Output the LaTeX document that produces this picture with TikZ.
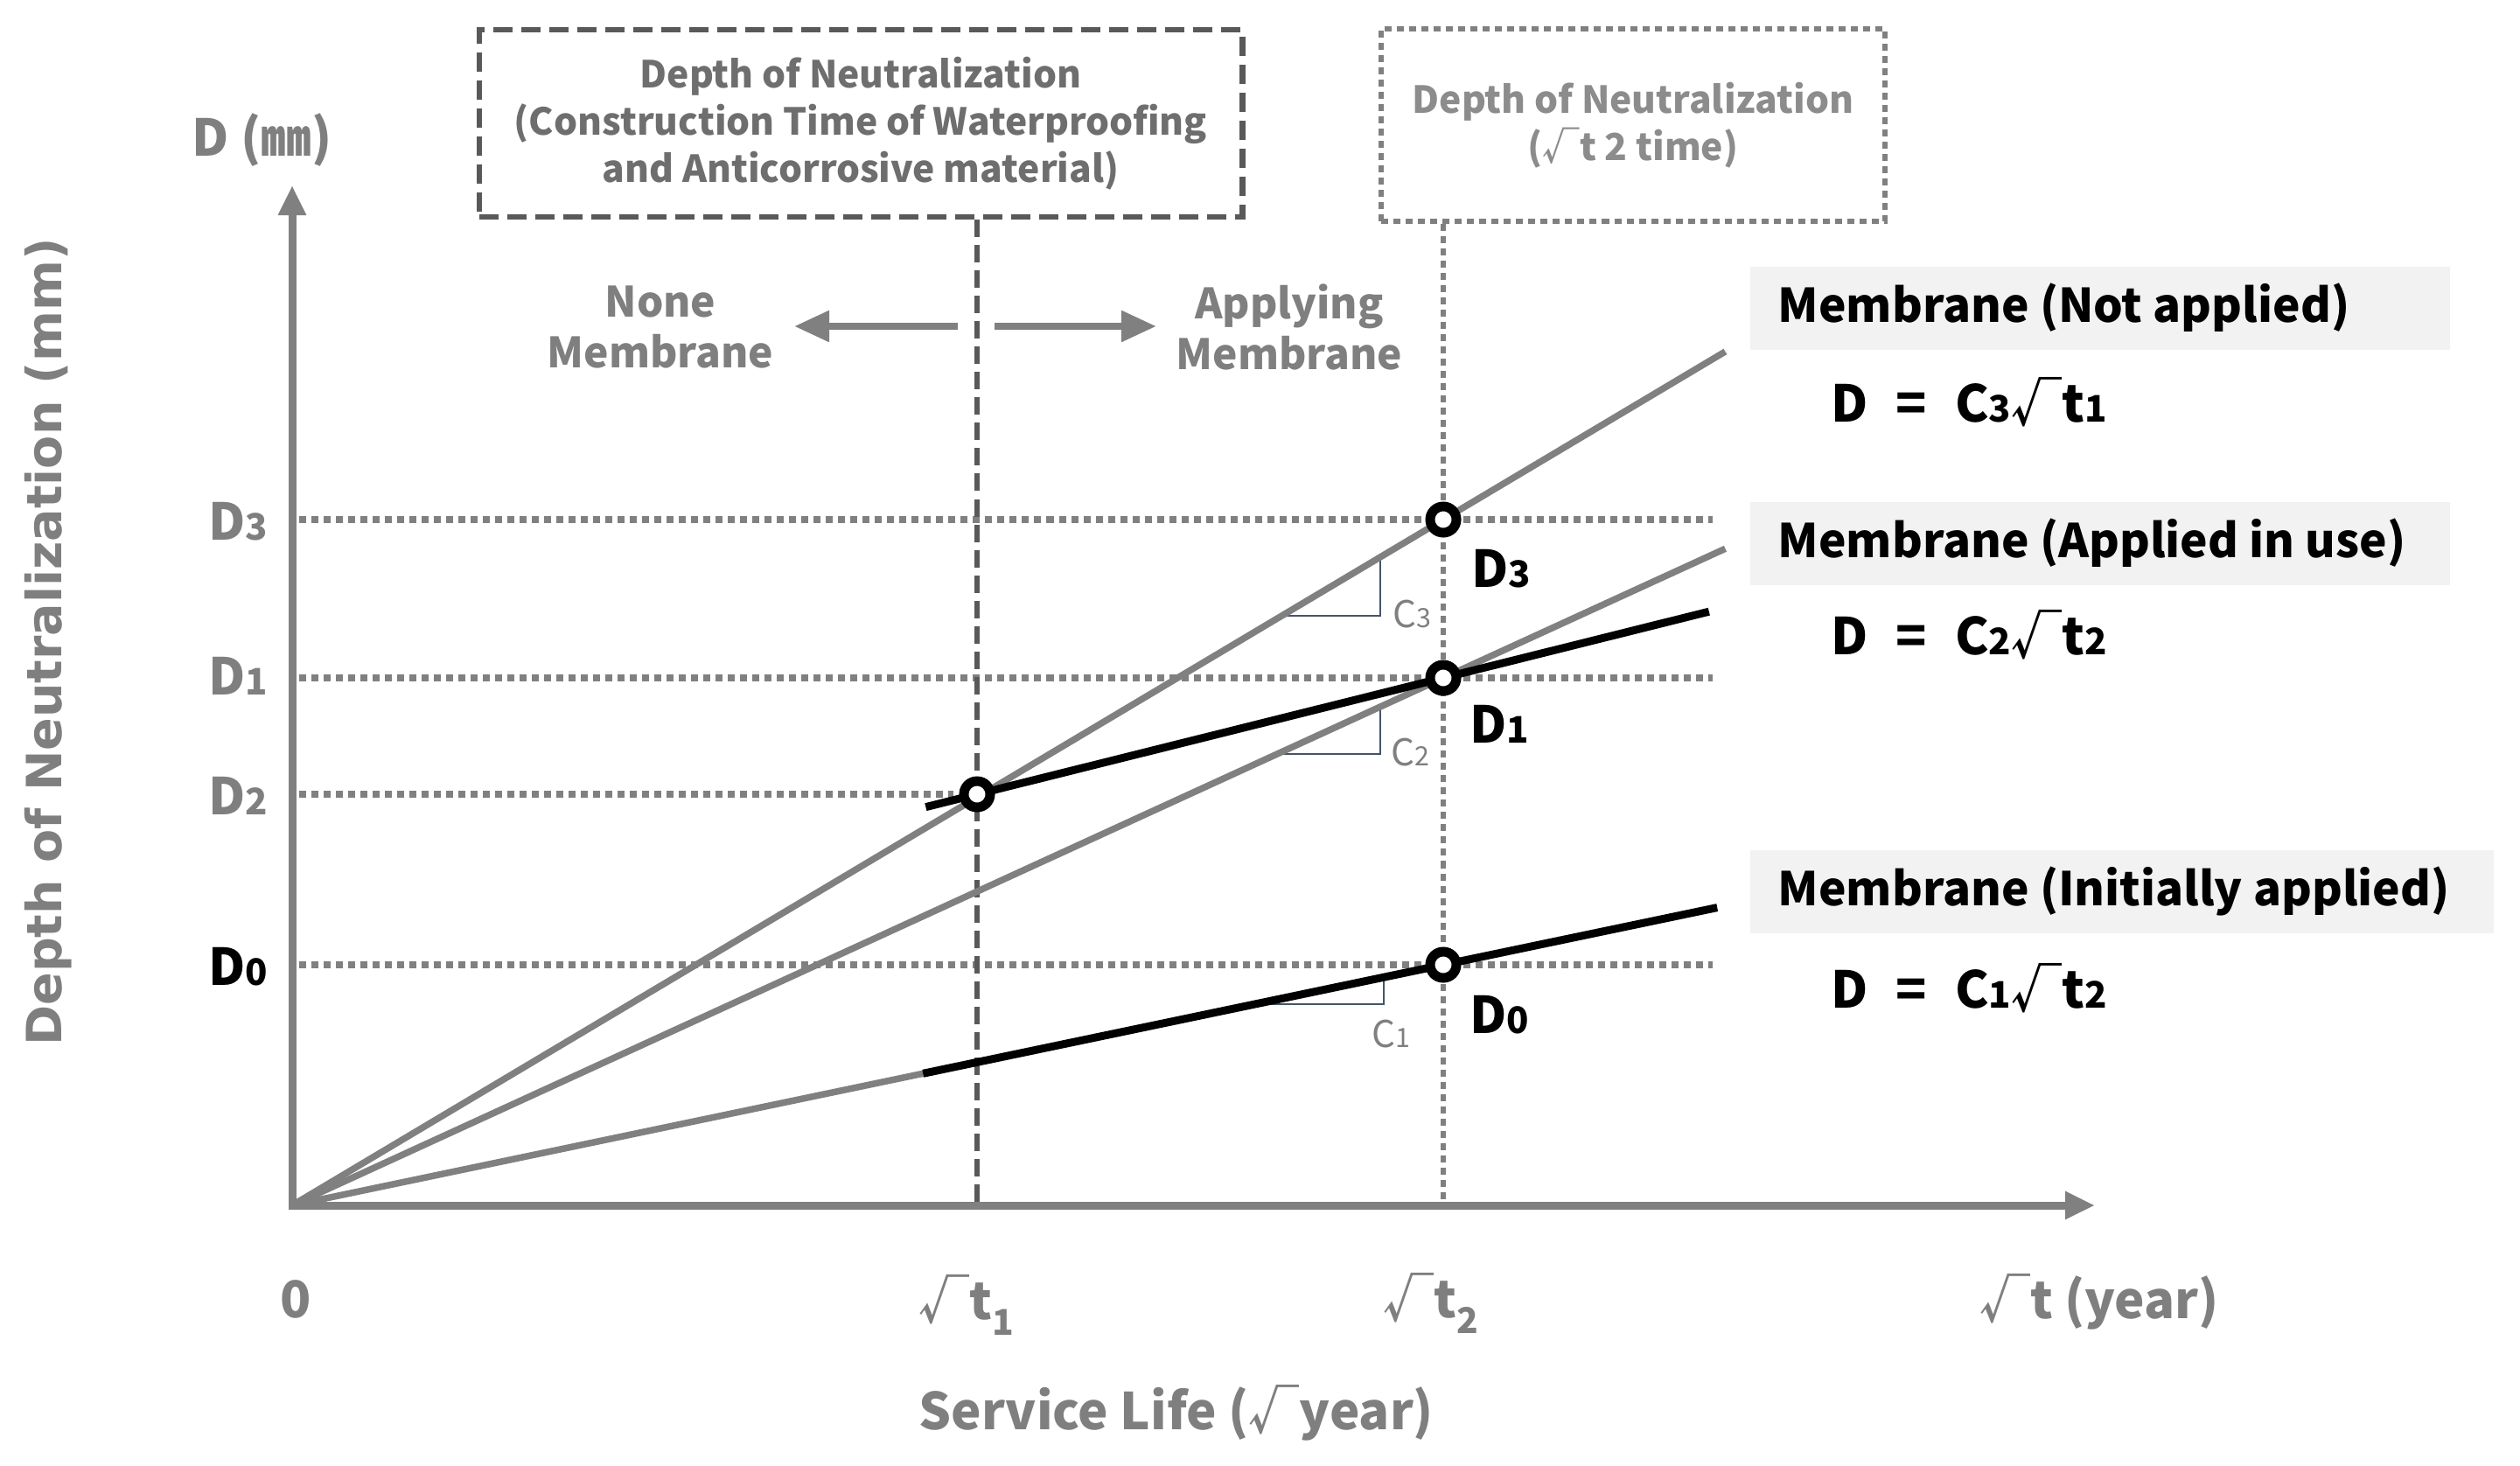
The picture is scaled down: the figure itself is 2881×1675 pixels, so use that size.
\documentclass[tikz,border=0pt]{standalone}
\usepackage{fontspec}
\usepackage{graphicx}
\setmainfont{Noto Sans CJK KR}
\newfontfamily\ylabfont{DejaVu Sans}
\usetikzlibrary{arrows.meta,calc}
\definecolor{agray}{HTML}{808080}
\definecolor{tgray}{HTML}{7F7F7F}
\definecolor{boxdark}{HTML}{595959}
\definecolor{boxtext}{HTML}{6E6E6E}
\definecolor{rboxtext}{HTML}{8C8C8C}
\definecolor{legfill}{HTML}{F2F2F2}
\definecolor{slopec}{HTML}{44546A}
\newcommand\dg[1]{\scalebox{0.72}{#1}}
\newcommand\sbs[1]{\raisebox{-0.3em}{\scalebox{0.7}{#1}}}
\newcommand\fBig{\fontsize{16.5}{20}\selectfont\bfseries}
\newcommand\fLeg{\fontsize{15.1}{18}\selectfont\bfseries}
\newcommand\fBox{\fontsize{12.1}{15.4}\selectfont\bfseries}
\newcommand\fMid{\fontsize{13.6}{16.3}\selectfont\bfseries}
\newcommand\fSmall{\fontsize{12}{14}\selectfont}
\tikzset{
  grayline/.style={draw=agray, line width=0.075cm},
  blackline/.style={draw=black, line width=0.09cm},
  axisline/.style={draw=agray, line width=0.09cm, -{Triangle[length=0.34cm,width=0.3cm]}},
  dotline/.style={draw=agray, line width=0.075cm, dash pattern=on 0.08cm off 0.06cm},
  dashline/.style={draw=boxdark, line width=0.06cm, dash pattern=on 0.2cm off 0.09cm},
  vdotline/.style={draw=agray, line width=0.06cm, dash pattern=on 0.08cm off 0.06cm},
  slopeline/.style={draw=slopec, line width=0.025cm},
  ringpt/.style={circle, draw=black, line width=0.11cm, fill=white, minimum size=0.30cm, inner sep=0pt},
  lbox/.style={draw=boxdark, line width=0.065cm, dash pattern=on 0.22cm off 0.1cm, minimum width=8.72cm, minimum height=2.14cm, align=center, text=boxtext, font=\fBox},
  rbox/.style={draw=agray, line width=0.06cm, dash pattern=on 0.08cm off 0.06cm, minimum width=5.75cm, minimum height=2.2cm, align=center, text=rboxtext, font=\fBox},
  legbox/.style={fill=legfill, anchor=north west, minimum height=0.95cm, inner sep=0pt},
  legtxt/.style={anchor=west, font=\fLeg, text=black, inner sep=0pt},
  graytxt/.style={text=tgray, font=\fBig},
  blacktxt/.style={text=black, font=\fBig},
  midtxt/.style={text=tgray, font=\fMid, align=center},
  memarrow/.style={draw=agray, line width=0.085cm, -{Triangle[length=0.4cm,width=0.34cm]}},
}
\begin{document}
\begin{tikzpicture}[x=0.01cm,y=-0.01cm]
\useasboundingbox (0,0) rectangle (2881,1675);
% key coordinates
\coordinate (O) at (334,1378);
\coordinate (Ytop) at (334,212);
\coordinate (Xend) at (2395,1378);
\coordinate (T1) at (1117,1378);
\coordinate (T2) at (1650,1378);
\coordinate (c2) at (1117,908);
\coordinate (c3) at (1650,594);
\coordinate (c1) at (1650,775);
\coordinate (c0) at (1650,1103);

% top boxes
\node[lbox] (boxL) at (984,141) {Depth of Neutralization\\(Construction Time of Waterproofing\\and Anticorrosive material)};
\node[rbox] (boxR) at (1867,143) {Depth of Neutralization\\(√t 2 time)};

% horizontal dotted guides
\coordinate (h3a) at (342,594);  \coordinate (h3b) at (1958,594);
\coordinate (h1a) at (342,775);  \coordinate (h1b) at (1958,775);
\coordinate (h2a) at (342,908);  \coordinate (h2b) at (1090,908);
\coordinate (h0a) at (342,1103); \coordinate (h0b) at (1958,1103);
\draw[dotline] (h3a) -- (h3b);
\draw[dotline] (h1a) -- (h1b);
\draw[dotline] (h2a) -- (h2b);
\draw[dotline] (h0a) -- (h0b);

% vertical guides
\draw[dashline] (boxL.south -| T1) -- (T1);
\draw[vdotline] (boxR.south -| T2) -- (T2);

% slope triangles
\draw[slopeline] (1465,704) -- (1578,704) -- (1578,637);
\draw[slopeline] (1460,862) -- (1578,862) -- (1578,808);
\draw[slopeline] (1434,1148) -- (1582,1148) -- (1582,1117);
\node[text=tgray, font=\fSmall] (sC3) at (1614,702) {C\dg{3}};
\node[text=tgray, font=\fSmall] (sC2) at (1612,860) {C\dg{2}};
\node[text=tgray, font=\fSmall] (sC1) at (1590,1182) {C\dg{1}};

% curves
\coordinate (E1) at ($(O)!1.245!(c3)$);
\coordinate (E2) at ($(O)!1.245!(c1)$);
\coordinate (B1) at ($(c2)!-0.11!(c1)$);
\coordinate (B2) at ($(c2)!1.57!(c1)$);
\coordinate (K) at ($(O)!0.548!(c0)$);
\coordinate (E3) at ($(O)!1.238!(c0)$);
\draw[grayline] (O) -- (E1);
\draw[grayline] (O) -- (E2);
\draw[grayline] (O) -- (K);
\draw[blackline] (K) -- (E3);
\draw[blackline] (B1) -- (B2);

% axes
\draw[axisline] (O) -- (Ytop);
\draw[axisline] ($(O)+(-4,0)$) -- (Xend);

% points
\node[ringpt] (p2) at (c2) {};
\node[ringpt] (p3) at (c3) {};
\node[ringpt] (p1) at (c1) {};
\node[ringpt] (p0) at (c0) {};

% point labels
\node[blacktxt] (lp3) at (1716,650) {D\dg{3}};
\node[blacktxt] (lp1) at (1714,828) {D\dg{1}};
\node[blacktxt] (lp0) at (1714,1160) {D\dg{0}};

% axis labels
\node[graytxt] (ly3) at (272,596) {D\dg{3}};
\node[graytxt] (ly1) at (272,773) {D\dg{1}};
\node[graytxt] (ly2) at (272,910) {D\dg{2}};
\node[blacktxt] (ly0) at (272,1105) {D\dg{0}};
\node[graytxt] (lunit) at (300,160) {D (㎜)};
\node[rotate=90, text=tgray, font=\ylabfont\bfseries\fontsize{15.8}{18}\selectfont] (ylab) at (55,734) {Depth of Neutralization (mm)};

\node[graytxt] (lx0) at (338,1485) {0};
\node[graytxt] (lt1) at (1105,1492) {√t\sbs{1}};
\node[graytxt] (lt2) at (1636,1490) {√t\sbs{2}};
\node[graytxt] (lty) at (2400,1488) {√t (year)};
\node[graytxt] (lsl) at (1345,1615) {Service Life (√year)};

% membrane arrows
\node[midtxt] (none) at (755,374) {None\\Membrane};
\node[midtxt] (appl) at (1474,374) {Applying\\Membrane};
\coordinate (aL1) at (1095,373); \coordinate (aL2) at (908,373);
\coordinate (aR1) at (1137,373); \coordinate (aR2) at (1322,373);
\draw[memarrow] (aL1) -- (aL2);
\draw[memarrow] (aR1) -- (aR2);

% legend
\node[legbox, minimum width=8.0cm] (leg1) at (2000,304) {};
\node[legtxt] (leg1t) at (2032,352) {Membrane (Not applied)};
\node[blacktxt, anchor=west, inner xsep=0pt] (f1) at (2093,460) {D\hspace{0.55em}=\hspace{0.55em}C\dg{3}√t\dg{1}};
\node[legbox, minimum width=8.0cm] (leg2) at (2000,573) {};
\node[legtxt] (leg2t) at (2032,621) {Membrane (Applied in use)};
\node[blacktxt, anchor=west, inner xsep=0pt] (f2) at (2093,726) {D\hspace{0.55em}=\hspace{0.55em}C\dg{2}√t\dg{2}};
\node[legbox, minimum width=8.5cm] (leg3) at (2000,971) {};
\node[legtxt] (leg3t) at (2032,1019) {Membrane (Initially applied)};
\node[blacktxt, anchor=west, inner xsep=0pt] (f3) at (2093,1130) {D\hspace{0.55em}=\hspace{0.55em}C\dg{1}√t\dg{2}};
\end{tikzpicture}
\end{document}
